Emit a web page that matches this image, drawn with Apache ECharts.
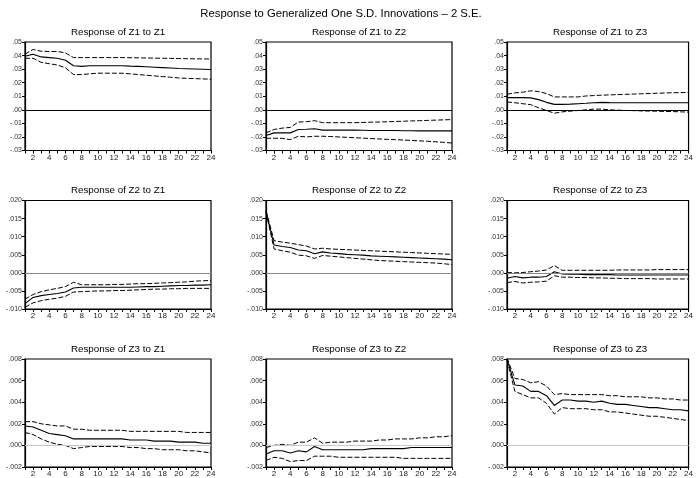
<!DOCTYPE html>
<html><head><meta charset="utf-8">
<script src="https://cdn.jsdelivr.net/npm/echarts@6/dist/echarts.min.js"></script>
<style>html,body{margin:0;padding:0;background:#fff}#c{width:696px;height:478px}</style>
</head><body><div id="c"></div>
<script>
const periods = Array.from({length:24},(_, i)=>String(i+1));
const mainTitle = 'Response to Generalized One S.D. Innovations \u2013 2 S.E.';
const panelTitles = ['Response of Z1 to Z1','Response of Z1 to Z2','Response of Z1 to Z3',
  'Response of Z2 to Z1','Response of Z2 to Z2','Response of Z2 to Z3',
  'Response of Z3 to Z1','Response of Z3 to Z2','Response of Z3 to Z3'];
// y-axis ranges per row: [min, max, interval, decimals]
const rowAxes = [[-0.03,0.05,0.01,2],[-0.010,0.020,0.005,3],[-0.002,0.008,0.002,3]];

const z1z1_resp=[.0395,.041,.039,.0385,.038,.0365,.0325,.032,.0325,.0325,.0325,.0325,.0325,.0322,.032,.0317,.0314,.0311,.0308,.0305,.0303,.0301,.0299,.0297];
const z1z1_up=[.041,.0445,.0432,.043,.043,.042,.0385,.0385,.0385,.0385,.0385,.0385,.0385,.0384,.0383,.0382,.0381,.038,.0379,.0378,.0377,.0376,.0375,.0375];
const z1z1_lo=[.038,.038,.035,.034,.033,.031,.026,.026,.0265,.027,.027,.027,.027,.0265,.026,.0255,.025,.0245,.024,.0235,.0232,.023,.0228,.0225];

const z1z2_resp=[-.019,-.017,-.017,-.017,-.0145,-.0143,-.014,-.015,-.015,-.015,-.015,-.015,-.0151,-.0152,-.0152,-.0153,-.0153,-.0154,-.0154,-.0155,-.0155,-.0155,-.0155,-.0155];
const z1z2_up=[-.017,-.0145,-.0135,-.013,-.009,-.0088,-.008,-.0095,-.0095,-.0095,-.0095,-.0095,-.0093,-.0091,-.009,-.0088,-.0086,-.0084,-.0082,-.008,-.0078,-.0076,-.0074,-.0072];
const z1z2_lo=[-.021,-.021,-.021,-.022,-.0195,-.02,-.0195,-.0195,-.0197,-.02,-.0203,-.0206,-.0209,-.0212,-.0215,-.0218,-.022,-.0223,-.0226,-.0229,-.0232,-.0236,-.024,-.0245];

const z1z3_resp=[.009,.009,.009,.0088,.0075,.0055,.004,.004,.0042,.0045,.0048,.0052,.0055,.0053,.0052,.0052,.0052,.0052,.0052,.0052,.0052,.0052,.0052,.0052];
const z1z3_up=[.0115,.0125,.013,.014,.0135,.012,.0095,.0095,.0095,.0095,.0102,.0105,.0108,.011,.0112,.0114,.0116,.0118,.012,.0122,.0124,.0126,.0127,.0128];
const z1z3_lo=[.0058,.0052,.0045,.0038,.0015,-.0005,-.0025,-.0015,-.001,-.0005,0,.0005,.0005,0,-.0002,-.0005,-.0006,-.0008,-.0009,-.001,-.0012,-.0013,-.0015,-.0017];

const z2z1_resp=[-.0085,-.0068,-.0063,-.006,-.0057,-.0053,-.0042,-.004,-.004,-.004,-.004,-.004,-.004,-.004,-.0039,-.0038,-.0038,-.0037,-.0036,-.0035,-.0035,-.0034,-.0034,-.0033];
const z2z1_up=[-.0073,-.006,-.0052,-.0047,-.0043,-.0038,-.0026,-.0033,-.0033,-.0033,-.0033,-.0032,-.0032,-.0031,-.003,-.003,-.0029,-.0028,-.0027,-.0026,-.0025,-.0023,-.0022,-.0021];
const z2z1_lo=[-.0095,-.0083,-.0077,-.0073,-.007,-.0065,-.0053,-.0052,-.0051,-.005,-.005,-.0049,-.0049,-.0048,-.0047,-.0046,-.0045,-.0045,-.0044,-.0044,-.0043,-.0043,-.0043,-.0043];

const z2z2_resp=[.017,.0077,.0073,.007,.0063,.0061,.0053,.0058,.0055,.0053,.0051,.005,.0049,.0047,.0046,.0045,.0044,.0043,.0042,.0041,.004,.0039,.0038,.0036];
const z2z2_up=[.0172,.0089,.0085,.0082,.0078,.0074,.0066,.0068,.0066,.0065,.0064,.0063,.0062,.0061,.006,.0059,.0058,.0057,.0056,.0055,.0054,.0053,.0052,.0051];
const z2z2_lo=[.0168,.0066,.0061,.0057,.0049,.0047,.004,.0048,.0046,.0044,.0042,.004,.0038,.0036,.0034,.0033,.0032,.0031,.003,.0029,.0028,.0027,.0025,.0023];

const z2z3_resp=[-.0015,-.001,-.0014,-.0012,-.0012,-.001,.0003,-.0003,-.0004,-.0004,-.0005,-.0005,-.0005,-.0005,-.0006,-.0006,-.0006,-.0006,-.0006,-.0006,-.0006,-.0006,-.0006,-.0006];
const z2z3_up=[.0001,0,.0001,.0003,.0005,.0008,.002,.0007,.0007,.0007,.0007,.0007,.0007,.0007,.0008,.0008,.0008,.0008,.0008,.0009,.0009,.0009,.0009,.0009];
const z2z3_lo=[-.0027,-.0024,-.0028,-.0026,-.0025,-.0023,-.0008,-.0012,-.0012,-.0013,-.0013,-.0014,-.0014,-.0015,-.0015,-.0016,-.0016,-.0016,-.0016,-.0017,-.0017,-.0017,-.0017,-.0017];

const z3z1_resp=[.0018,.0017,.0014,.0011,.001,.0009,.0006,.0006,.0006,.0006,.0006,.0006,.0006,.0005,.0005,.0005,.0004,.0004,.0004,.0003,.0003,.0003,.0002,.0002];
const z3z1_up=[.0022,.0022,.002,.0019,.0018,.0018,.0015,.0015,.0014,.0014,.0014,.0014,.0014,.0013,.0013,.0013,.0013,.0013,.0013,.0013,.0012,.0012,.0012,.0012];
const z3z1_lo=[.0012,.001,.0006,.0003,.0001,0,-.0003,-.0002,-.0001,-.0001,-.0001,-.0001,-.0001,-.0002,-.0002,-.0003,-.0003,-.0004,-.0004,-.0004,-.0005,-.0005,-.0006,-.0007];

const z3z2_resp=[-.0008,-.0005,-.0005,-.0007,-.0005,-.0006,-.0001,-.0004,-.0004,-.0004,-.0004,-.0004,-.0004,-.0003,-.0003,-.0003,-.0003,-.0003,-.0002,-.0002,-.0002,-.0002,-.0002,-.0002];
const z3z2_up=[-.0002,0,.0001,0,.0003,.0003,.0007,.0002,.0003,.0003,.0003,.0004,.0004,.0004,.0005,.0005,.0006,.0006,.0006,.0007,.0007,.0008,.0008,.0009];
const z3z2_lo=[-.0014,-.0011,-.0012,-.0015,-.0014,-.0014,-.001,-.001,-.001,-.0011,-.0011,-.0011,-.0011,-.0011,-.0011,-.0011,-.0011,-.0012,-.0012,-.0012,-.0012,-.0012,-.0012,-.0012];

const z3z3_resp=[.008,.0056,.0055,.005,.005,.0046,.0037,.0042,.0042,.0041,.0041,.004,.0041,.0039,.0038,.0038,.0037,.0036,.0035,.0035,.0034,.0033,.0033,.0032];
const z3z3_up=[.0081,.0062,.0061,.0058,.0059,.0055,.0047,.0048,.0047,.0047,.0047,.0047,.0047,.0046,.0046,.0045,.0045,.0045,.0044,.0044,.0043,.0043,.0042,.0042];
const z3z3_lo=[.0079,.005,.0047,.0044,.0044,.0039,.0029,.0035,.0034,.0034,.0034,.0033,.0033,.0031,.0031,.003,.0029,.0028,.0027,.0027,.0026,.0025,.0024,.0023];

const panels = [
  [z1z1_resp,z1z1_up,z1z1_lo],[z1z2_resp,z1z2_up,z1z2_lo],[z1z3_resp,z1z3_up,z1z3_lo],
  [z2z1_resp,z2z1_up,z2z1_lo],[z2z2_resp,z2z2_up,z2z2_lo],[z2z3_resp,z2z3_up,z2z3_lo],
  [z3z1_resp,z3z1_up,z3z1_lo],[z3z2_resp,z3z2_up,z3z2_lo],[z3z3_resp,z3z3_up,z3z3_lo]];

const colLeft=[25,266,507], colW=186, rowTop=[42,200.5,359], rowH=108.5;
const zeroColors=['#000','#888','#c8c8c8'];
const FONT='Liberation Sans, Arial, sans-serif';

const grids=[], xAxes=[], yAxes=[], series=[], graphics=[];
graphics.push({type:'text', x:341, y:14, style:{text:mainTitle, font:'11.3px '+FONT, fill:'#000', textAlign:'center', textVerticalAlign:'middle'}});
panels.forEach((p,i)=>{
  const r=Math.floor(i/3), c=i%3;
  const [mn,mx,iv,dec]=rowAxes[r];
  grids.push({left:colLeft[c], top:rowTop[r], width:colW, height:rowH, show:true, borderColor:'#000', borderWidth:1.2, backgroundColor:'transparent'});
  xAxes.push({type:'category', gridIndex:i, data:periods, boundaryGap:false,
    axisLine:{show:true, onZero:false, lineStyle:{color:'#000', width:1.2}},
    axisTick:{show:true, inside:false, length:3, interval:0, lineStyle:{color:'#000'}},
    axisLabel:{interval:(idx)=>idx%2===1, fontSize:8, color:'#222', fontFamily:FONT, margin:3},
    splitLine:{show:false}});
  yAxes.push({type:'value', gridIndex:i, min:mn, max:mx, interval:iv,
    axisLine:{show:true, onZero:false, lineStyle:{color:'#000', width:1.2}},
    axisTick:{show:true, length:3, lineStyle:{color:'#000'}},
    axisLabel:{fontSize:7, color:'#333', fontFamily:FONT, margin:3,
      formatter:(v)=>{ const s=(Math.round(v/iv)*iv).toFixed(dec); return s.replace('0.','.'); }},
    splitLine:{show:false}});
  graphics.push({type:'text', x:colLeft[c]+colW/2, y:rowTop[r]-10, style:{text:panelTitles[i], font:'9.8px '+FONT, fill:'#000', textAlign:'center', textVerticalAlign:'middle'}});
  series.push({type:'line', xAxisIndex:i, yAxisIndex:i, data:p[0], symbol:'none', silent:true,
    lineStyle:{color:'#000', width:1.1}, z:3,
    markLine:{silent:true, symbol:'none', label:{show:false}, data:[{yAxis:0}], lineStyle:{color:zeroColors[r], width:1, type:'solid'}}});
  series.push({type:'line', xAxisIndex:i, yAxisIndex:i, data:p[1], symbol:'none', silent:true,
    lineStyle:{color:'#000', width:1, type:[5,2]}});
  series.push({type:'line', xAxisIndex:i, yAxisIndex:i, data:p[2], symbol:'none', silent:true,
    lineStyle:{color:'#000', width:1, type:[5,2]}});
});

const chart=echarts.init(document.getElementById('c'), null, {renderer:'canvas'});
chart.setOption({animation:false, backgroundColor:'#fff', grid:grids, xAxis:xAxes, yAxis:yAxes, series:series, graphic:graphics});
</script></body></html>
